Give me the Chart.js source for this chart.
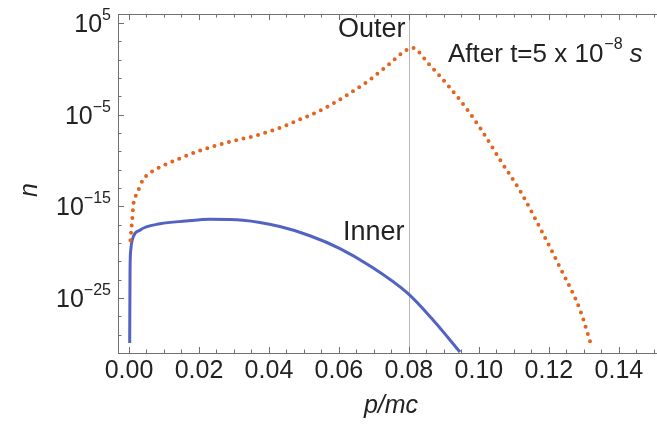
<!DOCTYPE html>
<html>
<head>
<meta charset="utf-8">
<script src="https://cdn.jsdelivr.net/npm/chart.js@4"></script>
<style>
  html, body { margin: 0; padding: 0; background: #fff; }
  #wrap { width: 657px; height: 426px; position: relative; }
</style>
</head>
<body>
<div id="wrap"><canvas id="chart"></canvas></div>
<script>
// Datos (n en exponentes de 10)
const outerP = [0.0004, 0.0009, 0.0013, 0.0023, 0.004, 0.0066, 0.0089, 0.0137, 0.0211, 0.0309, 0.036, 0.0437, 0.0483, 0.0554, 0.0623, 0.0689, 0.0746, 0.0786, 0.0811, 0.0831, 0.0851, 0.0889, 0.0946, 0.1003, 0.106, 0.1117, 0.1174, 0.1231, 0.1289, 0.1323];
const outerLogN = [-18.7, -16.5, -14.7, -13.6, -12.1, -11.2, -10.7, -9.9, -8.8, -7.75, -7.3, -6.35, -5.6, -4.4, -2.85, -1.15, 0.6, 1.9, 2.3, 1.75, 0.8, -0.8, -3.4, -6.4, -9.9, -13.25, -17.3, -21.6, -26.3, -30.4];

const innerP = [0.0002, 0.0003, 0.0005, 0.0009, 0.0031, 0.0089, 0.0163, 0.0231, 0.0326, 0.0431, 0.0517, 0.0603, 0.0689, 0.0797, 0.0869, 0.0946];
const innerLogN = [-29.9, -22.0, -19.8, -18.7, -17.6, -16.9, -16.6, -16.4, -16.5, -17.2, -18.2, -19.6, -21.5, -24.5, -27.4, -30.9];

const xTicks = [0.00, 0.02, 0.04, 0.06, 0.08, 0.10, 0.12, 0.14];
const yTickExps = [5, -5, -15, -25];
const markerP = 0.08;

function toPoints(xs, logs) {
    return xs.map((x, i) => ({ x: x, y: Math.pow(10, logs[i]) }));
}

// Ejes, marcas y textos dibujados a mano (estilo Mathematica)
const framePlugin = {
    id: 'frame',
    beforeDatasetsDraw(chart) {
        const ctx = chart.ctx;
        const a = chart.chartArea;
        const xs = chart.scales.x;
        const ys = chart.scales.y;
        ctx.save();
        // línea vertical en p = 0.08
        ctx.strokeStyle = '#b8b8b8';
        ctx.lineWidth = 1;
        const vx = Math.round(xs.getPixelForValue(markerP)) + 0.5;
        ctx.beginPath();
        ctx.moveTo(vx, a.top);
        ctx.lineTo(vx, a.bottom);
        ctx.stroke();

        // ejes
        ctx.strokeStyle = '#707070';
        ctx.beginPath();
        ctx.moveTo(a.left + 0.5, a.top);
        ctx.lineTo(a.left + 0.5, a.bottom + 0.5);
        ctx.lineTo(a.right, a.bottom + 0.5);
        ctx.moveTo(a.left, a.top + 0.5);
        ctx.lineTo(a.right, a.top + 0.5);
        ctx.stroke();

        // marcas en x (abajo y arriba)
        ctx.beginPath();
        for (let v = 0; v <= 0.1501; v += 0.005) {
            const px = Math.round(xs.getPixelForValue(v)) + 0.5;
            const major = Math.abs(v / 0.02 - Math.round(v / 0.02)) < 1e-6;
            const len = major ? 6 : 3.5;
            ctx.moveTo(px, a.bottom);
            ctx.lineTo(px, a.bottom - len);
            ctx.moveTo(px, a.top);
            ctx.lineTo(px, a.top + len);
        }
        // marcas en y
        for (let e = 5; e >= -31; e -= 2) {
            const py = Math.round(ys.getPixelForValue(Math.pow(10, e))) + 0.5;
            const major = (e - 5) % 10 === 0;
            const len = major ? 6 : 3.5;
            ctx.moveTo(a.left, py);
            ctx.lineTo(a.left + len, py);
        }
        ctx.stroke();

        // etiquetas x
        ctx.fillStyle = '#222';
        ctx.font = '25px "Liberation Sans", Arial, sans-serif';
        ctx.textAlign = 'center';
        ctx.textBaseline = 'top';
        xTicks.forEach(v => {
            ctx.fillText(v.toFixed(2), xs.getPixelForValue(v), a.bottom + 6);
        });

        // etiquetas y con exponente
        ctx.textBaseline = 'alphabetic';
        ctx.textAlign = 'left';
        yTickExps.forEach(e => {
            const py = ys.getPixelForValue(Math.pow(10, e));
            const sup = e < 0 ? '\u2212' + Math.abs(e) : String(e);
            ctx.font = '16px "Liberation Sans", Arial, sans-serif';
            const supW = ctx.measureText(sup).width;
            ctx.font = '25px "Liberation Sans", Arial, sans-serif';
            const baseW = ctx.measureText('10').width;
            const right = 111;
            ctx.fillText('10', right - supW - baseW, py + 9);
            ctx.font = '16px "Liberation Sans", Arial, sans-serif';
            ctx.fillText(sup, right - supW, py - 3);
        });
        ctx.restore();
    },
    afterDraw(chart) {
        const ctx = chart.ctx;
        ctx.save();
        ctx.fillStyle = '#222';
        ctx.textBaseline = 'middle';
        ctx.textAlign = 'left';
        ctx.font = '27px "Liberation Sans", Arial, sans-serif';
        ctx.fillText('Outer', 338, 30);
        ctx.fillText('Inner', 343, 233);

        // After t=5 x 10^-8 s
        ctx.textBaseline = 'alphabetic';
        let x = 448;
        const base = 62;
        ctx.font = '26px "Liberation Sans", Arial, sans-serif';
        const t1 = 'After t=5 x 10';
        ctx.fillText(t1, x, base);
        x += ctx.measureText(t1).width;
        ctx.font = '16px "Liberation Sans", Arial, sans-serif';
        ctx.fillText('\u22128', x + 1, base - 13);
        x += ctx.measureText('\u22128').width + 8;
        ctx.font = 'italic 26px "Liberation Sans", Arial, sans-serif';
        ctx.fillText('s', x, base);

        // títulos de ejes
        ctx.textAlign = 'center';
        ctx.textBaseline = 'middle';
        ctx.font = 'italic 25px "Liberation Sans", Arial, sans-serif';
        ctx.fillText('p/mc', 391, 406);
        ctx.save();
        ctx.translate(30, 190);
        ctx.rotate(-Math.PI / 2);
        ctx.fillText('n', 0, 0);
        ctx.restore();
        ctx.restore();
    }
};

const ctx = document.getElementById('chart').getContext('2d');
const chart = new Chart(ctx, {
    type: 'line',
    data: {
        datasets: [
            {
                label: 'Outer',
                data: toPoints(outerP, outerLogN),
                borderColor: '#e2641e',
                borderWidth: 4,
                borderDash: [0, 7.5],
                borderCapStyle: 'round',
                pointRadius: 0,
                fill: false,
                cubicInterpolationMode: 'monotone',
                order: 0
            },
            {
                label: 'Inner',
                data: toPoints(innerP, innerLogN),
                borderColor: '#5263c2',
                borderWidth: 3,
                pointRadius: 0,
                fill: false,
                cubicInterpolationMode: 'monotone',
                order: 1
            }
        ]
    },
    options: {
        responsive: true,
        maintainAspectRatio: false,
        animation: false,
        devicePixelRatio: 1,
        layout: {
            padding: { left: 118, top: 14, right: 0, bottom: 73 }
        },
        plugins: {
            legend: { display: false },
            tooltip: { enabled: false }
        },
        scales: {
            x: {
                type: 'linear',
                display: false,
                min: -0.00314,
                max: 0.1509
            },
            y: {
                type: 'logarithmic',
                display: false,
                min: 1e-31,
                max: 1e6
            }
        }
    },
    plugins: [framePlugin]
});
</script>
</body>
</html>
